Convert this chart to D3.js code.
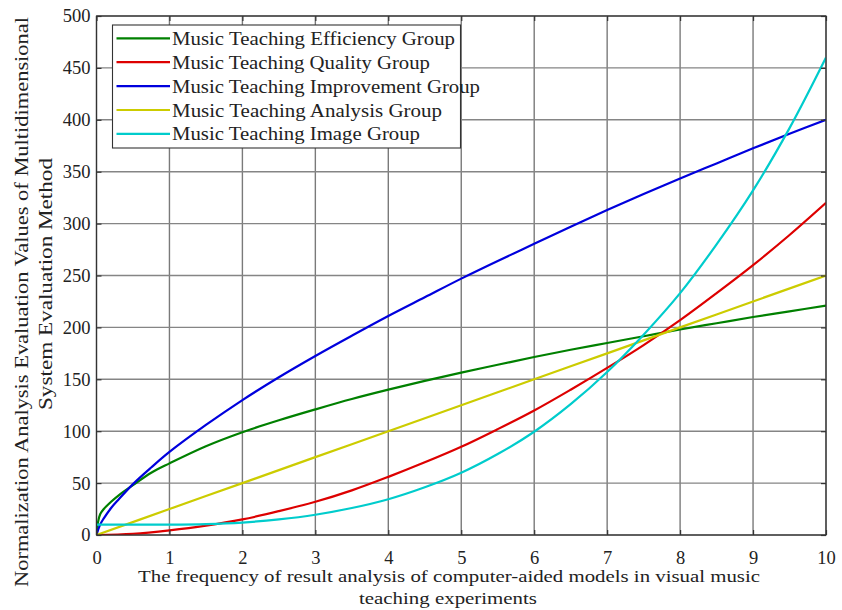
<!DOCTYPE html>
<html>
<head>
<meta charset="utf-8">
<script src="https://cdn.jsdelivr.net/npm/d3@7"></script>
<style>
  html, body { margin: 0; padding: 0; background: #fff; }
  svg text { font-family: "Liberation Serif", "Times New Roman", serif; fill: #222; }
</style>
</head>
<body>
<svg id="chart" width="842" height="610"></svg>
<script>
// ---- data ----
const seriesNames = [
  "Music Teaching Efficiency Group",
  "Music Teaching Quality Group",
  "Music Teaching Improvement Group",
  "Music Teaching Analysis Group",
  "Music Teaching Image Group"
];
const seriesColors = ["#008000", "#dd0000", "#0000dd", "#cccc00", "#00cccc"];

const efficiencyX = [0, 0.02, 0.05, 0.1, 0.2, 0.3, 0.5, 0.75, 1, 1.5, 2, 2.5, 3, 3.5, 4, 4.5, 5, 5.5, 6, 6.5, 7, 7.5, 8, 8.5, 9, 9.5, 10];
const efficiencyY = [0, 12, 20, 25, 32, 38, 48, 60, 69, 85.5, 99, 110.5, 121, 131, 140, 148.5, 156.5, 164, 171.5, 178.5, 185, 191.5, 198, 204, 210, 215.5, 221];

const qualityX = [0, 0.5, 1, 1.5, 2, 2.5, 3, 3.5, 4, 4.5, 5, 5.5, 6, 6.5, 7, 7.5, 8, 8.5, 9, 9.5, 10];
const qualityY = [0, 1.2, 4.5, 9, 15, 23, 32, 43, 56, 70, 85, 102, 120, 140, 161, 183, 207, 233, 260, 289, 320];

const improvementX = [0, 0.05, 0.1, 0.2, 0.3, 0.5, 0.75, 1, 1.5, 2, 2.5, 3, 3.5, 4, 4.5, 5, 5.5, 6, 6.5, 7, 7.5, 8, 8.5, 9, 9.5, 10];
const improvementY = [0, 10, 16, 26, 34, 49, 65, 80, 106, 130, 152, 172.5, 192, 211, 229, 247, 264, 280.5, 297, 313, 328.5, 343.5, 358, 372.5, 386.5, 400];

const analysisX = [0, 1, 2, 3, 4, 5, 6, 7, 8, 9, 10];
const analysisY = [0, 25, 50, 75, 100, 125, 150, 175, 200, 225, 250];

const imageX = [0, 0.5, 1, 1.5, 2, 2.5, 3, 3.5, 4, 4.5, 5, 5.5, 6, 6.5, 7, 7.5, 8, 8.5, 9, 9.5, 10];
const imageY = [10, 10, 10, 10.5, 12, 15, 19.5, 26, 34.5, 46, 60, 78, 99.5, 126, 157, 193, 233, 280, 332, 392, 460];

const xTicks = [0, 1, 2, 3, 4, 5, 6, 7, 8, 9, 10];
const yTicks = [0, 50, 100, 150, 200, 250, 300, 350, 400, 450, 500];

const xLabelLines = ["The frequency of result analysis of computer-aided models in visual music", "teaching experiments"];
const yLabelLines = ["Normalization Analysis Evaluation Values of Multidimensional", "System Evaluation Method"];

// ---- layout ----
const svg = d3.select("#chart");
const L = 96.5, R = 826, T = 16, B = 535;
const x = d3.scaleLinear().domain([0, 10]).range([L, R]);
const y = d3.scaleLinear().domain([0, 500]).range([B, T]);
const FS = 17.5;

// grid
const grid = svg.append("g");
grid.selectAll("line.vx").data(xTicks).join("line")
  .attr("x1", d => x(d)).attr("x2", d => x(d)).attr("y1", T).attr("y2", B)
  .attr("stroke", "#7a7a7a").attr("stroke-width", 1.4);
grid.selectAll("line.hy").data(yTicks).join("line")
  .attr("y1", d => y(d)).attr("y2", d => y(d)).attr("x1", L).attr("x2", R)
  .attr("stroke", "#858585").attr("stroke-width", 1.4);

// series
const series = [
  [efficiencyX, efficiencyY],
  [qualityX, qualityY],
  [improvementX, improvementY],
  [analysisX, analysisY],
  [imageX, imageY]
];
const line = d3.line().x(d => x(d[0])).y(d => y(d[1])).curve(d3.curveCatmullRom.alpha(0.5));
svg.append("clipPath").attr("id", "clp").append("rect")
  .attr("x", L).attr("y", T).attr("width", R - L).attr("height", B - T);
series.forEach((s, i) => {
  const pts = s[0].map((xv, j) => [xv, s[1][j]]);
  svg.append("path").datum(pts).attr("d", line)
    .attr("fill", "none").attr("stroke", seriesColors[i]).attr("stroke-width", 2.2)
    .attr("clip-path", "url(#clp)");
});

// axes box
svg.append("rect").attr("x", L).attr("y", T).attr("width", R - L).attr("height", B - T)
  .attr("fill", "none").attr("stroke", "#333").attr("stroke-width", 1.2);

// axes with inward ticks
const tickLen = 5;
const xAxisB = d3.axisBottom(x).tickValues(xTicks).tickSize(-tickLen).tickFormat(d3.format("d")).tickPadding(16);
const gxb = svg.append("g").attr("transform", `translate(0,${B})`).call(xAxisB);
const xAxisT = d3.axisTop(x).tickValues(xTicks).tickSize(-tickLen).tickFormat("");
const gxt = svg.append("g").attr("transform", `translate(0,${T})`).call(xAxisT);
const yAxisL = d3.axisLeft(y).tickValues(yTicks).tickSize(-tickLen).tickFormat(d3.format("d")).tickPadding(6);
const gyl = svg.append("g").attr("transform", `translate(${L},0)`).call(yAxisL);
const yAxisR = d3.axisRight(y).tickValues(yTicks).tickSize(-tickLen).tickFormat("");
const gyr = svg.append("g").attr("transform", `translate(${R},0)`).call(yAxisR);
[gxb, gxt, gyl, gyr].forEach(g => {
  g.select(".domain").remove();
  g.selectAll(".tick line").attr("stroke", "#333").attr("stroke-width", 1.2);
  g.selectAll("text").attr("font-family", "Liberation Serif").attr("font-size", FS + 1).attr("fill", "#222");
});

// legend
const legX = 112.5, legY = 25, legW = 348, legH = 123;
svg.append("rect").attr("x", legX).attr("y", legY).attr("width", legW).attr("height", legH)
  .attr("fill", "#fff").attr("stroke", "#333").attr("stroke-width", 1.1);
const legendWidths = [283, 258, 308, 270, 248];
seriesNames.forEach((name, i) => {
  const ly = 38.3 + i * 23.9;
  svg.append("line").attr("x1", 116.5).attr("x2", 170).attr("y1", ly).attr("y2", ly)
    .attr("stroke", seriesColors[i]).attr("stroke-width", 2.2);
  svg.append("text").attr("x", 172).attr("y", ly + 6.5)
    .attr("font-size", 18.5).attr("textLength", legendWidths[i]).attr("lengthAdjust", "spacingAndGlyphs")
    .text(name);
});

// axis labels
svg.append("text").attr("x", 449).attr("y", 582).attr("text-anchor", "middle")
  .attr("font-size", FS).attr("textLength", 622).attr("lengthAdjust", "spacingAndGlyphs")
  .text(xLabelLines[0]);
svg.append("text").attr("x", 448).attr("y", 604).attr("text-anchor", "middle")
  .attr("font-size", FS).attr("textLength", 178).attr("lengthAdjust", "spacingAndGlyphs")
  .text(xLabelLines[1]);

svg.append("text").attr("transform", "translate(28,302) rotate(-90)").attr("text-anchor", "middle")
  .attr("font-size", FS + 0.5).attr("textLength", 570).attr("lengthAdjust", "spacingAndGlyphs")
  .text(yLabelLines[0]);
svg.append("text").attr("transform", "translate(52,284) rotate(-90)").attr("text-anchor", "middle")
  .attr("font-size", FS + 0.5).attr("textLength", 252).attr("lengthAdjust", "spacingAndGlyphs")
  .text(yLabelLines[1]);
</script>
</body>
</html>
